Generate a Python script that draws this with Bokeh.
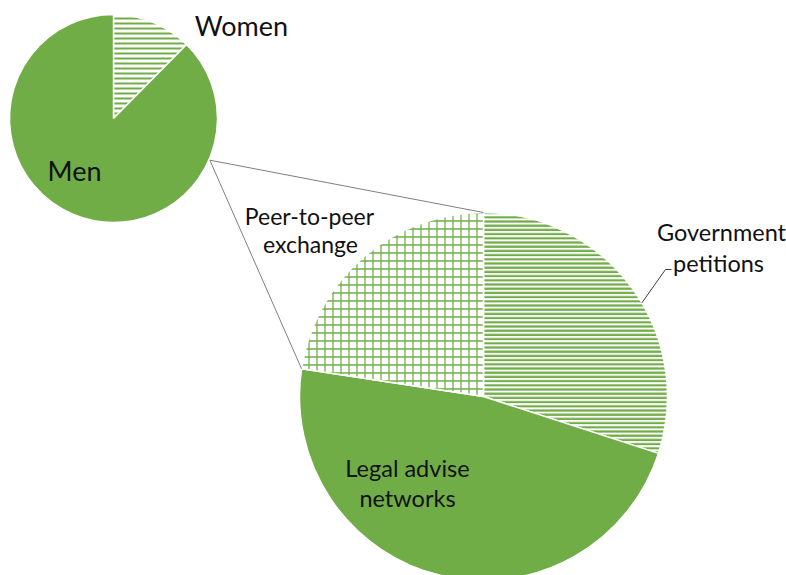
import math
from bokeh.plotting import figure
from bokeh.models import Range1d
from bokeh.core.properties import value
from bokeh.embed import file_html
from bokeh.resources import INLINE

# ---- data ----
gender_labels = ["Women", "Men"]
gender_shares = [12.4, 87.6]
channel_labels = ["Government petitions", "Legal advise networks", "Peer-to-peer exchange"]
channel_shares = [30.0, 47.4, 22.6]

W, H = 786, 575
GREEN = "#70AD47"
FONT = "Lato"

p = figure(width=W, height=H, output_backend="svg", toolbar_location=None,
           x_range=Range1d(0, W), y_range=Range1d(0, H),
           x_axis_type=None, y_axis_type=None, min_border=0)
p.grid.visible = False
p.outline_line_color = None
p.background_fill_color = "white"
p.border_fill_color = "white"


def Y(y):  # pixel-from-top -> data
    return H - y


def ang(frac):  # fraction of circle, clockwise from 12 o'clock
    return math.pi / 2 - 2 * math.pi * frac


def pt(cx, cy, r, frac):
    a = ang(frac)
    return cx + r * math.cos(a), cy + r * math.sin(a)


# small pie
scx, scy, sr = 113, Y(118), 104
tot = sum(gender_shares)
cum = 0.0
for lab, v in zip(gender_labels, gender_shares):
    a0, a1 = cum / tot, (cum + v) / tot
    kw = dict(x=scx, y=scy, radius=sr, start_angle=ang(a0), end_angle=ang(a1),
              direction="clock", line_color="white", line_width=1.5)
    if lab == "Women":
        p.wedge(fill_color="white", hatch_pattern="horizontal_line",
                hatch_color=GREEN, hatch_scale=5, hatch_weight=2, **kw)
    else:
        p.wedge(fill_color=GREEN, **kw)
    cum += v

# big pie
bcx, bcy, br = 483, Y(396), 184
tot2 = sum(channel_shares)
cum = 0.0
bounds = []
for lab, v in zip(channel_labels, channel_shares):
    a0, a1 = cum / tot2, (cum + v) / tot2
    kw = dict(x=bcx, y=bcy, radius=br, start_angle=ang(a0), end_angle=ang(a1),
              direction="clock", line_color="white", line_width=1.5)
    if lab.startswith("Government"):
        p.wedge(fill_color="white", hatch_pattern="horizontal_line",
                hatch_color=GREEN, hatch_scale=4.2, hatch_weight=2.2, **kw)
    elif lab.startswith("Legal"):
        p.wedge(fill_color=GREEN, **kw)
    else:
        p.wedge(fill_color="white", hatch_pattern="cross",
                hatch_color=GREEN, hatch_scale=8, hatch_weight=1.3, **kw)
    bounds.append(a1)
    cum += v

# connector lines from small pie edge to big pie boundaries
sx, sy = pt(scx, scy, sr + 1, 0.315)
tx, ty = pt(bcx, bcy, br, 0.0)
lx, ly = pt(bcx, bcy, br, bounds[1])
p.line([sx, tx], [sy, ty], line_color="#7f7f7f", line_width=1)
p.line([sx, lx], [sy, ly], line_color="#7f7f7f", line_width=1)

# leader for Government petitions
gx, gy = pt(bcx, bcy, br, 0.165)
p.line([gx, 665, 671], [gy, Y(269), Y(269)], line_color="#404040", line_width=1)

TXT = "#111111"


def label(x, y, s, size, align="center"):
    p.text(x=[x], y=[Y(y)], text=[s], text_font=value(FONT), text_font_size=size,
           text_align=align, text_baseline="middle", text_color=TXT)


label(241, 25, "Women", "27px")
label(74, 170, "Men", "27px")
label(309, 215, "Peer-to-peer", "23px")
label(310, 243, "exchange", "23px")
label(721, 231, "Government", "23.5px")
label(718, 262, "petitions", "23.5px")
label(407, 467, "Legal advise", "23.5px")
label(407, 497, "networks", "23.5px")

open("out.html", "w").write(file_html(p, INLINE))
